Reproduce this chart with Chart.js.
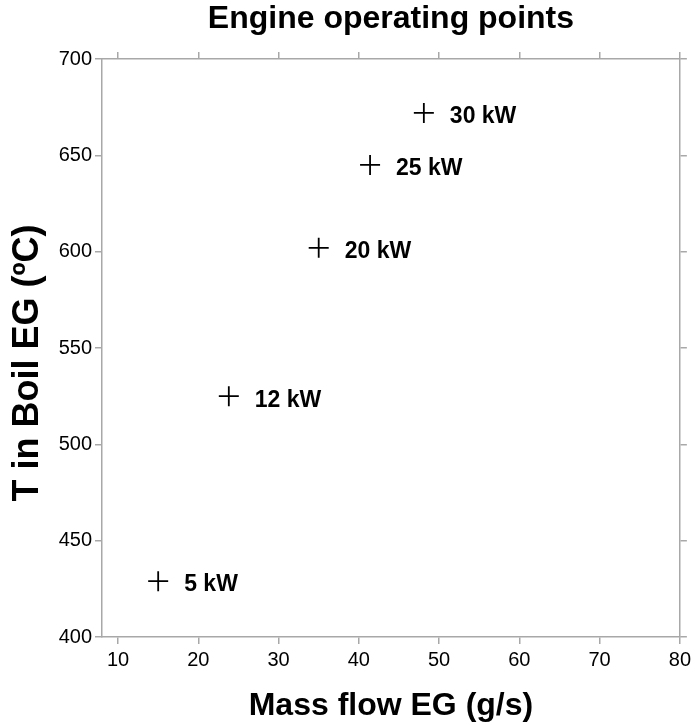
<!DOCTYPE html>
<html>
<head>
<meta charset="utf-8">
<script src="https://cdn.jsdelivr.net/npm/chart.js@4/dist/chart.umd.min.js"></script>
<style>
  html, body { margin: 0; padding: 0; background: #fff; }
  #wrap { width: 695px; height: 725px; }
</style>
</head>
<body>
<div id="wrap"><canvas id="chart" width="695" height="725"></canvas></div>
<script>
// Engine load points: exhaust gas mass flow vs boiler inlet temperature
const powerLabels = ['5 kW', '12 kW', '20 kW', '25 kW', '30 kW'];
const massFlow = [15.0, 23.8, 35.0, 41.4, 48.1];
const tempIn = [429, 525, 602, 645, 672];

const xTicks = [10, 20, 30, 40, 50, 60, 70, 80];
const yTicks = [400, 450, 500, 550, 600, 650, 700];

const FONT = '"Liberation Sans", Arial, Helvetica, sans-serif';
const AXIS_GREY = '#a8a8a8';

const points = massFlow.map((x, i) => ({ x: x, y: tempIn[i] }));

// writes "NN kW" next to each marker
const pointLabels = {
    id: 'pointLabels',
    afterDatasetsDraw(chart) {
        const ctx = chart.ctx;
        const meta = chart.getDatasetMeta(0);
        ctx.save();
        ctx.font = 'bold 23px ' + FONT;
        ctx.fillStyle = '#000';
        ctx.textAlign = 'left';
        ctx.textBaseline = 'middle';
        meta.data.forEach((el, i) => {
            ctx.fillText(powerLabels[i], el.x + 26, el.y + 4);
        });
        ctx.restore();
    }
};

function frameGrid() {
    return {
        drawOnChartArea: false,
        drawTicks: true,
        tickLength: 7,
        color: AXIS_GREY,
        lineWidth: 1.5
    };
}

function frameBorder() {
    return { display: true, color: AXIS_GREY, width: 1.5 };
}

function setTicks(list) {
    return (scale) => { scale.ticks = list.map(v => ({ value: v })); };
}

const ctx = document.getElementById('chart').getContext('2d');
new Chart(ctx, {
    type: 'scatter',
    data: {
        datasets: [{
            data: points,
            pointStyle: 'cross',
            pointRadius: 10,
            pointHoverRadius: 10,
            pointBorderWidth: 1.8,
            borderColor: '#000',
            backgroundColor: '#000'
        }]
    },
    options: {
        responsive: false,
        animation: false,
        devicePixelRatio: 1,
        layout: { padding: 0 },
        plugins: {
            legend: { display: false },
            tooltip: { enabled: false }
        },
        scales: {
            x: {
                type: 'linear',
                position: 'bottom',
                min: 8,
                max: 80,
                afterBuildTicks: setTicks(xTicks),
                afterFit: (s) => { s.height = 88; },
                grid: frameGrid(),
                border: frameBorder(),
                ticks: {
                    color: '#000',
                    padding: 4,
                    font: { family: FONT, size: 20 }
                },
                title: {
                    display: true,
                    text: 'Mass flow EG (g/s)',
                    color: '#000',
                    font: { family: FONT, size: 32, weight: 'bold' },
                    padding: 0
                }
            },
            // top frame edge; its title is centred over the plot area
            x2: {
                type: 'linear',
                position: 'top',
                min: 8,
                max: 80,
                afterBuildTicks: setTicks(xTicks),
                afterFit: (s) => { s.height = 59; },
                grid: frameGrid(),
                border: frameBorder(),
                ticks: { display: false },
                title: {
                    display: true,
                    text: 'Engine operating points',
                    color: '#000',
                    font: { family: FONT, size: 32, weight: 'bold' },
                    padding: { top: 0, bottom: 0 }
                }
            },
            y: {
                type: 'linear',
                position: 'left',
                min: 400,
                max: 700,
                afterBuildTicks: setTicks(yTicks),
                afterFit: (s) => { s.width = 102; },
                grid: frameGrid(),
                border: frameBorder(),
                ticks: {
                    color: '#000',
                    padding: 3,
                    font: { family: FONT, size: 20 }
                },
                title: {
                    display: true,
                    text: 'T in Boil EG (ºC)   ',
                    color: '#000',
                    font: { family: FONT, size: 36, weight: 'bold' },
                    padding: { top: 6, bottom: 0 }
                }
            },
            y2: {
                type: 'linear',
                position: 'right',
                min: 400,
                max: 700,
                afterBuildTicks: setTicks(yTicks),
                afterFit: (s) => { s.width = 14; },
                grid: frameGrid(),
                border: frameBorder(),
                ticks: { display: false }
            }
        }
    },
    plugins: [pointLabels]
});
</script>
</body>
</html>
